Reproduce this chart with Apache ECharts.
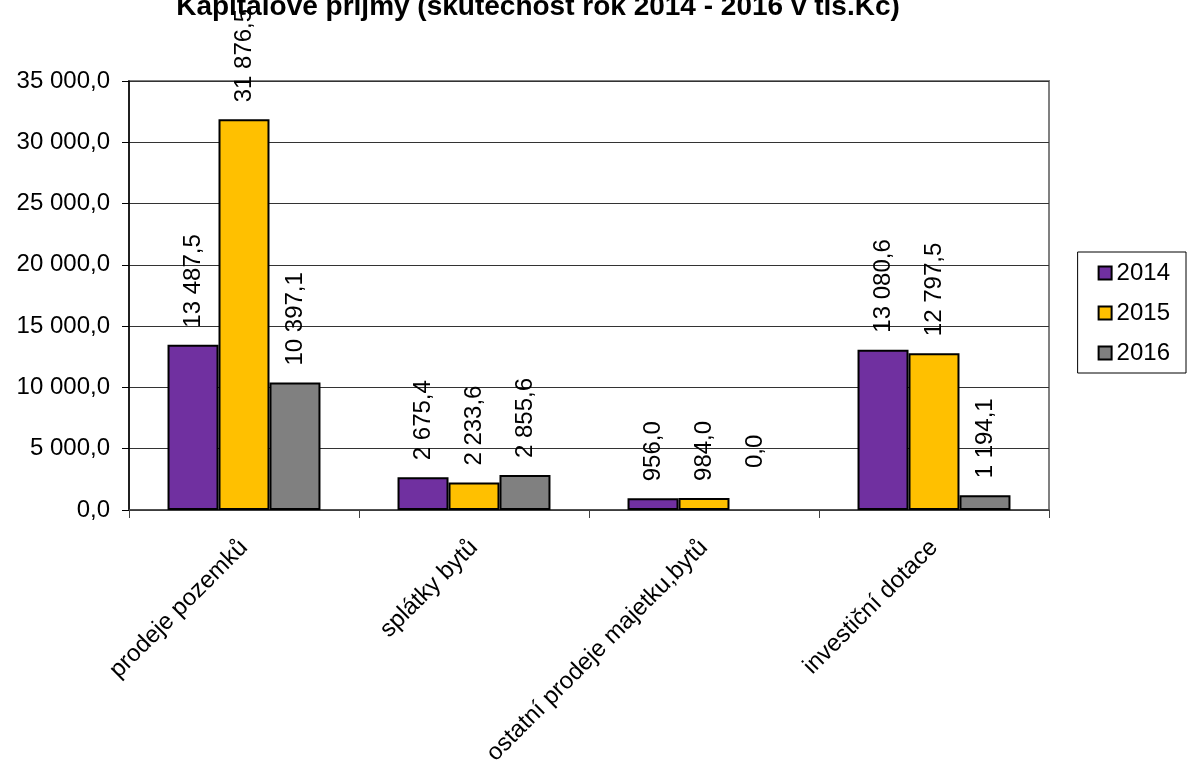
<!DOCTYPE html>
<html>
<head>
<meta charset="utf-8">
<script src="https://cdn.jsdelivr.net/npm/echarts@6/dist/echarts.min.js"></script>
<style>
html,body{margin:0;padding:0;background:#fff;}
#chart{width:1188px;height:762px;}
</style>
</head>
<body>
<div id="chart"></div>
<script>
const titleText = 'Kapitálové příjmy (skutečnost rok 2014 - 2016 v tis.Kč)';
const categories = ['prodeje pozemků', 'splátky bytů', 'ostatní prodeje majetku,bytů', 'investiční dotace'];
const seriesNames = ['2014', '2015', '2016'];
const values2014 = [13487.5, 2675.4, 956.0, 13080.6];
const values2015 = [31876.5, 2233.6, 984.0, 12797.5];
const values2016 = [10397.1, 2855.6, 0.0, 1194.1];
const colors = ['#7030A0', '#FFC000', '#808080'];

const FONT = '"Liberation Sans", Arial, sans-serif';
const FS = 24;

function fmt(v) {
  const s = v.toFixed(1).split('.');
  const intPart = s[0].replace(/\B(?=(\d{3})+(?!\d))/g, ' ');
  return intPart + ',' + s[1];
}

function buildSeries(name, vals, color) {
  return {
    name: name,
    type: 'bar',
    barGap: '0%',
    barCategoryGap: '33.5%',
    data: vals.map(v => v === 0
      ? { value: v, itemStyle: { borderWidth: 0 }, label: { distance: 42 } }
      : { value: v }),
    itemStyle: { color: color, borderColor: '#000', borderWidth: 2 },
    label: {
      show: true,
      position: 'top',
      rotate: 90,
      align: 'left',
      verticalAlign: 'middle',
      distance: 17,
      fontSize: FS,
      fontFamily: FONT,
      color: '#000',
      formatter: p => fmt(p.value)
    }
  };
}

const chart = echarts.init(document.getElementById('chart'));
chart.setOption({
  animation: false,
  backgroundColor: '#fff',
  title: {
    text: titleText,
    left: 533,
    textAlign: 'center',
    top: -12,
    textStyle: { fontSize: 28, fontWeight: 'bold', fontFamily: FONT, color: '#000' }
  },
  legend: {
    orient: 'vertical',
    right: 2,
    top: 252,
    padding: [9, 16, 8, 20],
    itemGap: 16,
    itemWidth: 13,
    itemHeight: 13,
    icon: 'rect',
    borderColor: '#000',
    borderWidth: 1,
    textStyle: { fontSize: FS, fontFamily: FONT, color: '#000' },
    data: seriesNames.map((n, i) => ({ name: n, itemStyle: { color: colors[i], borderColor: '#000', borderWidth: 2 } }))
  },
  grid: {
    left: 129, right: 139, top: 81, bottom: 252,
    containLabel: false, outerBoundsMode: 'none',
    show: true, borderColor: '#808080', borderWidth: 2, backgroundColor: 'transparent'
  },
  xAxis: {
    type: 'category',
    data: categories,
    axisLine: { lineStyle: { color: '#404040', width: 1.5 } },
    axisTick: { show: true, alignWithLabel: false, length: 8, lineStyle: { color: '#404040' } },
    axisLabel: {
      interval: 0, rotate: 45, margin: 34,
      fontSize: FS, fontFamily: FONT, color: '#000'
    }
  },
  yAxis: {
    type: 'value',
    min: 0, max: 35000, interval: 5000,
    axisLine: { show: true, lineStyle: { color: '#000', width: 1.5 } },
    axisTick: { show: true, length: 7, lineStyle: { color: '#000' } },
    splitLine: { lineStyle: { color: '#333', width: 1 } },
    axisLabel: { margin: 19, fontSize: FS, fontFamily: FONT, color: '#000', formatter: v => fmt(v) }
  },
  series: [
    buildSeries(seriesNames[0], values2014, colors[0]),
    buildSeries(seriesNames[1], values2015, colors[1]),
    buildSeries(seriesNames[2], values2016, colors[2])
  ]
});
</script>
</body>
</html>
